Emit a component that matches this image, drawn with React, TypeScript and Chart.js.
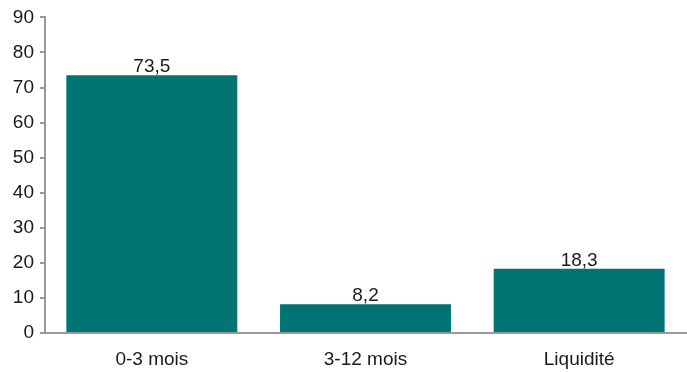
import React, { useEffect, useRef } from "react";
import { Chart, registerables } from "chart.js";

Chart.register(...registerables);

const categories = ["0-3 mois", "3-12 mois", "Liquidité"];
const values = [73.5, 8.2, 18.3];
const yTicks = [0, 10, 20, 30, 40, 50, 60, 70, 80, 90];

const FONT = "'Liberation Sans', Arial, sans-serif";
const BAR = "#007373";
const AXIS = "#999999";
const TEXT = "#1a1a1a";

const labelPlugin = {
  id: "barLabels",
  afterDatasetsDraw(chart: any) {
    const ctx = chart.ctx;
    const meta = chart.getDatasetMeta(0);
    ctx.save();
    ctx.font = `19px ${FONT}`;
    ctx.fillStyle = TEXT;
    ctx.textAlign = "center";
    ctx.textBaseline = "alphabetic";
    meta.data.forEach((el: any, i: number) => {
      const txt = values[i].toFixed(1).replace(".", ",");
      ctx.fillText(txt, el.x, el.y - 3);
    });
    ctx.restore();
  },
};

export default function App() {
  const ref = useRef<HTMLCanvasElement>(null);
  useEffect(() => {
    if (!ref.current) return;
    const chart = new Chart(ref.current, {
      type: "bar",
      data: {
        labels: categories,
        datasets: [
          {
            data: values,
            backgroundColor: BAR,
            barPercentage: 0.8,
            categoryPercentage: 1,
          },
        ],
      },
      options: {
        animation: false,
        responsive: false,
        maintainAspectRatio: false,
        layout: { padding: { top: 17, right: 1, left: 0, bottom: 0 } },
        plugins: { legend: { display: false }, tooltip: { enabled: false } },
        scales: {
          x: {
            grid: { display: false },
            border: { display: true, color: AXIS, width: 2 },
            ticks: { color: TEXT, font: { family: FONT, size: 19 }, padding: 7 },
            afterFit(scale: any) {
              scale.height = 39;
            },
          },
          y: {
            min: 0,
            max: 90,
            afterBuildTicks(scale: any) {
              scale.ticks = yTicks.map((v) => ({ value: v }));
            },
            grid: {
              display: true,
              drawOnChartArea: false,
              drawTicks: true,
              tickLength: 5,
              color: AXIS,
              lineWidth: 2,
            },
            border: { display: true, color: AXIS, width: 2 },
            ticks: { color: TEXT, font: { family: FONT, size: 19 }, padding: 6 },
            afterFit(scale: any) {
              scale.width = 45;
            },
          },
        },
      },
      plugins: [labelPlugin],
    });
    return () => chart.destroy();
  }, []);
  return (
    <div style={{ position: "absolute", left: 0, top: 0, width: 687, height: 372, background: "#fff" }}>
      <canvas ref={ref} width={687} height={372} />
    </div>
  );
}
